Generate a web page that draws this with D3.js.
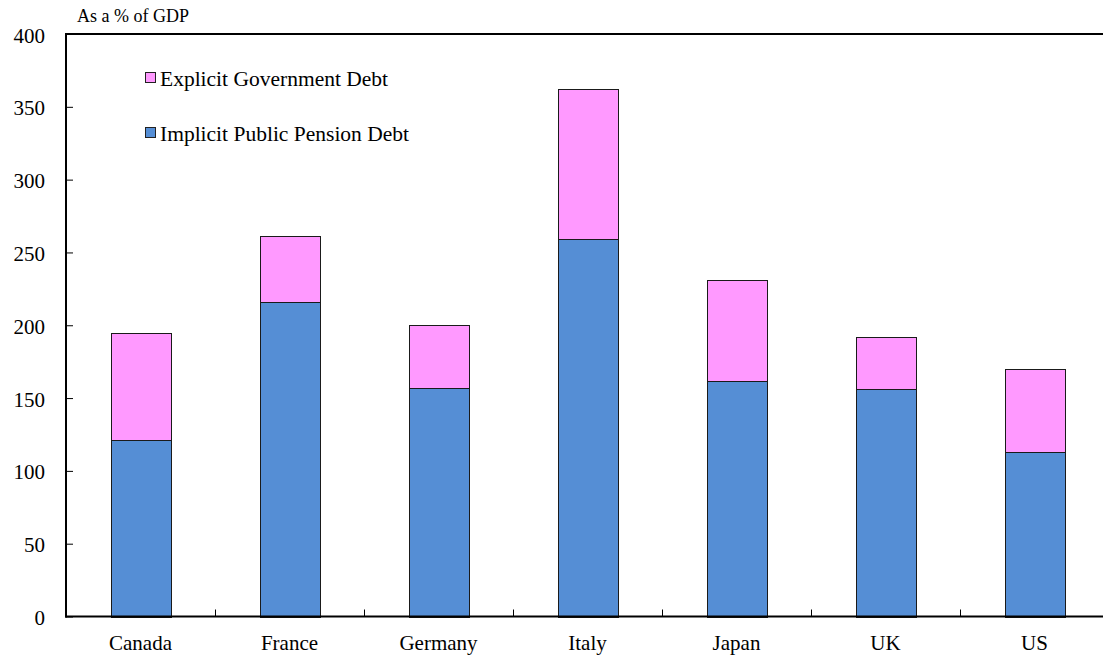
<!DOCTYPE html>
<html>
<head>
<meta charset="utf-8">
<script src="https://cdnjs.cloudflare.com/ajax/libs/d3/7.8.5/d3.min.js"></script>
<style>
  body { margin: 0; background: #fff; }
  text { font-family: "Liberation Serif", "Times New Roman", serif; fill: #000; }
</style>
</head>
<body>
<div class="svg-container"></div>
<script>
// data
var countries = ["Canada", "France", "Germany", "Italy", "Japan", "UK", "US"];
var implicitDebt = [121, 216, 157, 259, 162, 156, 113];
var explicitDebt = [74, 45, 43, 103, 69, 36, 57];
var yTicks = [0, 50, 100, 150, 200, 250, 300, 350, 400];
var seriesNames = ["Explicit Government Debt", "Implicit Public Pension Debt"];
var seriesColors = ["#ff99ff", "#558ed5"];

var w = 1103, h = 657;
var pLeft = 66, pRight = 1109, pTop = 34, pBottom = 616.5;

var svg = d3.select(".svg-container")
    .append("svg")
    .attr("width", w)
    .attr("height", h);

var x = d3.scaleBand()
    .domain(countries)
    .range([pLeft, pRight])
    .paddingInner(0.6)
    .paddingOuter(0.3);

var xb = d3.scaleBand().domain(countries).range([pLeft, pRight]);

var y = d3.scaleLinear()
    .domain([0, 400])
    .range([pBottom, pTop]);

var rows = countries.map(function(c, i) {
    return { country: c, implicit: implicitDebt[i], explicit: explicitDebt[i] };
});

// bars: implicit at bottom, explicit stacked on top
var bars = svg.append("g");
bars.selectAll("rect.impl")
    .data(rows)
    .enter().append("rect")
    .attr("class", "impl")
    .attr("x", function(d) { return Math.round(x(d.country)) + 0.5; })
    .attr("y", function(d) { return Math.round(y(d.implicit)) + 0.5; })
    .attr("width", Math.round(x.bandwidth()))
    .attr("height", function(d) { return Math.round(y(0)) - Math.round(y(d.implicit)); })
    .attr("fill", seriesColors[1])
    .attr("stroke", "#1a1a1a")
    .attr("stroke-width", 1);

bars.selectAll("rect.expl")
    .data(rows)
    .enter().append("rect")
    .attr("class", "expl")
    .attr("x", function(d) { return Math.round(x(d.country)) + 0.5; })
    .attr("y", function(d) { return Math.round(y(d.implicit + d.explicit)) + 0.5; })
    .attr("width", Math.round(x.bandwidth()))
    .attr("height", function(d) { return Math.round(y(d.implicit)) - Math.round(y(d.implicit + d.explicit)); })
    .attr("fill", seriesColors[0])
    .attr("stroke", "#1a1a1a")
    .attr("stroke-width", 1);

// top frame line
svg.append("line")
    .attr("x1", pLeft).attr("x2", w).attr("y1", pTop).attr("y2", pTop)
    .attr("stroke", "#000").attr("stroke-width", 2);

// y axis, ticks inside
var yAxis = svg.append("g")
    .attr("transform", "translate(" + pLeft + ",0)")
    .call(d3.axisRight(y).tickValues(yTicks).tickSize(7).tickFormat(""));
yAxis.select(".domain").remove();
yAxis.selectAll("line").attr("stroke", "#000");

svg.append("g").selectAll("text")
    .data(yTicks)
    .enter().append("text")
    .attr("x", 45)
    .attr("y", function(d) { return y(d) + 8.5; })
    .attr("text-anchor", "end")
    .style("font-size", "21px")
    .text(function(d) { return d; });

svg.append("line")
    .attr("x1", pLeft).attr("x2", pLeft).attr("y1", pTop - 1).attr("y2", pBottom + 1)
    .attr("stroke", "#000").attr("stroke-width", 2);

// x axis: ticks at category boundaries pointing up
svg.append("g").selectAll("line")
    .data(countries.slice(1))
    .enter().append("line")
    .attr("x1", function(d) { return Math.round(xb(d)) + 0.5; })
    .attr("x2", function(d) { return Math.round(xb(d)) + 0.5; })
    .attr("y1", pBottom)
    .attr("y2", pBottom - 7)
    .attr("stroke", "#000");

svg.append("line")
    .attr("x1", pLeft - 1).attr("x2", w).attr("y1", pBottom).attr("y2", pBottom)
    .attr("stroke", "#000").attr("stroke-width", 2);

svg.append("g").selectAll("text")
    .data(countries)
    .enter().append("text")
    .attr("x", function(d) { return xb(d) + xb.bandwidth() / 2; })
    .attr("y", 650)
    .attr("text-anchor", "middle")
    .style("font-size", "21px")
    .text(function(d) { return d; });

// unit label
svg.append("text")
    .attr("x", 77)
    .attr("y", 22)
    .style("font-size", "18px")
    .text("As a % of GDP");

// legend
var legend = svg.append("g");
seriesNames.forEach(function(name, i) {
    var ly = 72 + i * 55;
    legend.append("rect")
        .attr("x", 145.5).attr("y", ly + 0.5)
        .attr("width", 10).attr("height", 10)
        .attr("fill", seriesColors[i])
        .attr("stroke", "#222");
    legend.append("text")
        .attr("x", 160)
        .attr("y", ly + 14)
        .style("font-size", "21.5px")
        .text(name);
});
</script>
</body>
</html>
